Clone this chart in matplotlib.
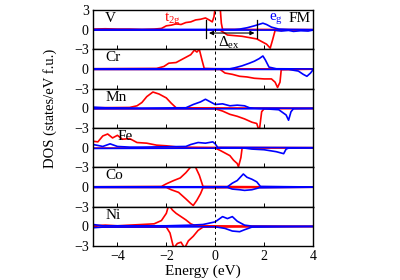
import matplotlib
matplotlib.use("Agg")
import matplotlib.pyplot as plt

plt.rcParams['font.family'] = ['Liberation Serif', 'DejaVu Serif']
plt.rcParams['mathtext.fontset'] = 'stix'

elements = ['V', 'Cr', 'Mn', 'Fe', 'Co', 'Ni']
label_x = [-4.5, -4.5, -4.5, -4.0, -4.5, -4.5]

# (energy, DOS) pairs; spin up > 0, spin down < 0
v_t2g_up = [(-5, 0.1), (-4.5, 0.15), (-4, 0.1), (-3.5, 0.1), (-3, 0.05), (-2.5, 0.1), (-2.2, 0.2),
            (-2.0, 0.6), (-1.8, 0.7), (-1.6, 0.9), (-1.4, 0.8), (-1.2, 1.1), (-1.0, 1.2), (-0.8, 1.5),
            (-0.6, 1.6), (-0.4, 1.8), (-0.25, 1.5), (-0.12, 1.2), (-0.05, 2.0), (0.0, 3.5), (0.1, 3.5),
            (0.2, 3.5), (0.25, 1.0), (0.3, 0.05), (1, 0.05), (2, 0.05), (3, 0.03), (4, 0.02)]
v_t2g_dn = [(-5, -0.05), (0.2, -0.05), (0.3, -0.3), (0.5, -0.8), (0.8, -0.9), (1.1, -1.0), (1.4, -1.2),
            (1.7, -1.4), (1.9, -1.8), (2.1, -2.2), (2.25, -2.8), (2.35, -1.5), (2.45, -0.1),
            (3, -0.05), (4, -0.02)]
v_eg_up = [(-5, 0.05), (0.8, 0.05), (1.0, 0.1), (1.3, 0.3), (1.6, 0.6), (1.95, 1.0), (2.1, 0.8),
           (2.3, 0.4), (2.6, 0.1), (3, 0.05), (4, 0.02)]
v_eg_dn = [(-5, -0.05), (2.4, -0.05), (2.7, -0.2), (3.0, -0.1), (3.2, -0.25), (3.5, -0.15),
           (3.8, -0.2), (4, -0.05)]

cr_t2g_up = [(-5, 0.05), (-2.4, 0.1), (-2.1, 0.4), (-1.9, 0.9), (-1.6, 1.0), (-1.4, 1.4), (-1.2, 1.8),
             (-1.0, 2.2), (-0.85, 2.9), (-0.75, 2.6), (-0.65, 3.0), (-0.55, 1.5), (-0.45, 0.1), (0, 0.05),
             (4, 0.02)]
cr_t2g_dn = [(-5, -0.05), (0.2, -0.05), (0.4, -0.6), (0.7, -0.8), (1.0, -1.1), (1.3, -1.2), (1.6, -1.4),
             (2.0, -1.5), (2.3, -1.5), (2.45, -2.0), (2.55, -2.8), (2.65, -2.0), (2.7, -0.1), (4, -0.02)]
cr_eg_up = [(-5, 0.05), (0.6, 0.05), (0.8, 0.2), (1.1, 0.5), (1.4, 0.9), (1.6, 1.2), (1.8, 1.6),
            (1.95, 2.0), (2.05, 1.4), (2.2, 0.3), (2.5, 0.05), (4, 0.02)]
cr_eg_dn = [(-5, -0.05), (3.0, -0.05), (3.4, -0.3), (3.6, -0.8), (3.75, -1.1), (3.9, -0.6), (4, -0.1)]

mn_t2g_up = [(-5, 0.1), (-3.5, 0.15), (-3.2, 0.4), (-3.0, 0.9), (-2.8, 1.8), (-2.55, 2.5), (-2.3, 2.2),
             (-2.0, 1.6), (-1.8, 0.8), (-1.6, 0.1), (4, 0.02)]
mn_t2g_dn = [(-5, -0.05), (0, -0.05), (0.3, -0.4), (0.6, -0.9), (0.9, -1.2), (1.2, -1.6), (1.5, -2.1),
             (1.7, -2.3), (1.8, -3.5), (1.9, -0.5), (2.0, -0.05), (4, -0.02)]
mn_eg_up = [(-5, 0.2), (-4.5, 0.1), (-3, 0.05), (-1.2, 0.1), (-0.9, 0.6), (-0.6, 1.0), (-0.4, 1.4),
            (-0.2, 1.0), (0, 0.6), (0.3, 0.7), (0.6, 0.4), (0.9, 0.5), (1.2, 0.4), (1.4, 0.1),
            (1.6, 0.05), (4, 0.02)]
mn_eg_dn = [(-5, -0.05), (1.6, -0.05), (2.2, -0.1), (2.6, -0.2), (2.9, -1.0), (3.0, -1.8), (3.1, -0.5),
            (3.2, -0.05), (4, -0.02)]

fe_t2g_up = [(-5, 1.0), (-4.8, 0.9), (-4.6, 1.8), (-4.4, 2.1), (-4.2, 1.5), (-4.0, 1.9), (-3.8, 1.3),
             (-3.5, 1.4), (-3.2, 0.8), (-2.8, 0.7), (-2.4, 0.4), (-2.0, 0.3), (-1.5, 0.1), (0, 0.05),
             (4, 0.02)]
fe_t2g_dn = [(-5, -0.05), (0, -0.05), (0.2, -0.4), (0.4, -0.8), (0.6, -1.2), (0.75, -1.9), (0.9, -2.4),
             (0.95, -2.9), (1.05, -1.5), (1.1, -0.05), (4, -0.02)]
fe_eg_up = [(-5, 0.5), (-4.6, 0.2), (-4.3, 0.6), (-4.0, 0.2), (-3.5, 0.1), (-3, 0.1), (-1.2, 0.2),
            (-1.0, 0.5), (-0.7, 0.8), (-0.4, 0.7), (-0.1, 0.9), (0, 0.6), (0.1, 0.05), (4, 0.02)]
fe_eg_dn = [(-5, -0.1), (1.2, -0.05), (1.5, -0.2), (2.0, -0.3), (2.5, -0.6), (2.8, -0.9), (2.9, -0.2),
            (3.0, -0.05), (4, -0.02)]

co_t2g_up = [(-5, 0.05), (-2.2, 0.1), (-2.0, 0.5), (-1.7, 1.0), (-1.43, 1.4), (-1.2, 2.2), (-0.95, 3.3),
             (-0.8, 3.0), (-0.65, 1.8), (-0.5, 0.1), (4, 0.02)]
co_t2g_dn = [(-5, -0.05), (-2.0, -0.05), (-1.8, -0.4), (-1.5, -0.8), (-1.2, -1.8), (-1.0, -2.5),
             (-0.9, -2.8), (-0.75, -2.0), (-0.6, -1.0), (-0.5, -0.1), (4, -0.02)]
co_eg_up = [(-5, 0.05), (0.5, 0.05), (0.7, 0.6), (0.9, 1.0), (1.15, 2.0), (1.3, 1.5), (1.5, 1.2),
            (1.7, 0.8), (1.85, 0.1), (4, 0.02)]
co_eg_dn = [(-5, -0.05), (0.5, -0.05), (0.7, -0.3), (1.0, -0.4), (1.2, -0.5), (1.5, -0.4), (1.8, -0.1),
            (4, -0.02)]

ni_t2g_up = [(-5, 0.1), (-4.5, 0.2), (-4, 0.1), (-3.5, 0.2), (-3, 0.3), (-2.5, 0.4), (-2.2, 0.9),
             (-2.0, 2.0), (-1.9, 3.3), (-1.75, 2.5), (-1.6, 2.0), (-1.4, 1.5), (-1.2, 1.0), (-1.0, 0.4),
             (-0.8, 0.1), (4, 0.02)]
ni_t2g_dn = [(-5, -0.1), (-2.0, -0.1), (-1.85, -1.0), (-1.7, -3.3), (-1.55, -2.6), (-1.4, -2.4),
             (-1.25, -3.3), (-1.1, -2.2), (-0.9, -1.5), (-0.7, -0.6), (-0.5, -0.1), (4, -0.02)]
ni_eg_up = [(-5, 0.3), (-4.6, 0.1), (-4, 0.1), (-2, 0.1), (-1.0, 0.2), (-0.5, 0.3), (0, 0.7),
            (0.3, 1.5), (0.5, 1.2), (0.7, 1.5), (0.9, 0.8), (1.2, 0.2), (1.5, 0.05), (4, 0.02)]
ni_eg_dn = [(-5, -0.2), (-4.6, -0.1), (0, -0.05), (0.4, -0.3), (0.7, -0.7), (1.0, -0.8), (1.2, -0.5),
            (1.5, -0.1), (4, -0.02)]

t2g_sets = [(v_t2g_up, v_t2g_dn), (cr_t2g_up, cr_t2g_dn), (mn_t2g_up, mn_t2g_dn),
            (fe_t2g_up, fe_t2g_dn), (co_t2g_up, co_t2g_dn), (ni_t2g_up, ni_t2g_dn)]
eg_sets = [(v_eg_up, v_eg_dn), (cr_eg_up, cr_eg_dn), (mn_eg_up, mn_eg_dn),
           (fe_eg_up, fe_eg_dn), (co_eg_up, co_eg_dn), (ni_eg_up, ni_eg_dn)]

# exchange splitting marker in the V panel
dex_left, dex_right, dex_y = -0.37, 1.72, -0.5

fig, axes = plt.subplots(6, 1, sharex=True, figsize=(4, 2.8), dpi=100)
fig.subplots_adjust(left=0.2325, right=0.7825, top=0.964, bottom=0.121, hspace=0)

for i, ax in enumerate(axes):
    for series in t2g_sets[i]:
        ax.plot([p[0] for p in series], [p[1] for p in series], color='red', lw=1.2)
    for series in eg_sets[i]:
        ax.plot([p[0] for p in series], [p[1] for p in series], color='blue', lw=1.2)
    ax.axvline(0, color='black', ls='--', lw=0.7, dashes=(3, 3))
    ax.set_xlim(-5, 4)
    ax.set_ylim(-3, 3)
    ax.set_yticks([-3, 0, 3] if i == 0 else [-3, 0])
    ax.tick_params(direction='in', labelsize=10, length=3, width=0.7, pad=3)
    for s in ax.spines.values():
        s.set_linewidth(1.0)
    ax.text(label_x[i], 1.7, elements[i], fontsize=11, va='center', ha='left')

ax0 = axes[0]
ax0.text(-2.1, 1.7, r'$\mathregular{t_{2g}}$', color='red', fontsize=11, va='center')
ax0.text(2.2, 1.7, r'$\mathregular{e_{g}}$', color='blue', fontsize=11, va='center')
ax0.text(3.9, 1.7, 'FM', fontsize=11, va='center', ha='right')
ax0.annotate('', xy=(dex_left, dex_y), xytext=(dex_right, dex_y),
             arrowprops=dict(arrowstyle='<|-|>', color='black', lw=0.8, mutation_scale=6))
ax0.plot([dex_left, dex_left], [-1.3, 1.5], color='black', lw=0.9)
ax0.plot([dex_right, dex_right], [-1.3, 1.5], color='black', lw=0.9)
ax0.text(0.55, -0.8, r'$\mathregular{\Delta_{ex}}$', fontsize=11, ha='center', va='top')

axes[-1].set_xticks([-4, -2, 0, 2, 4])
axes[-1].set_xlabel('Energy (eV)', fontsize=11, labelpad=1)
fig.text(0.125, 0.614, 'DOS (states/eV f.u.)', rotation=90, fontsize=10.5, ha='center', va='center')

fig.savefig('out.png', dpi=100)
